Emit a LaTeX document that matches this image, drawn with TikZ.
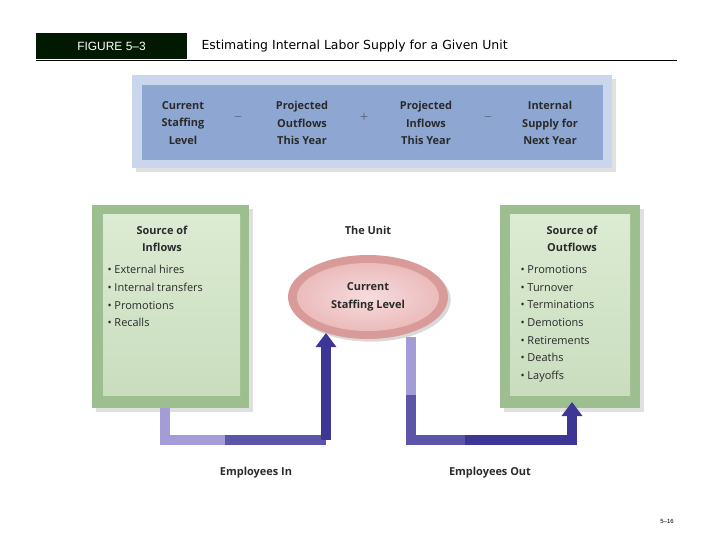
\documentclass[tikz,border=0pt]{standalone}
\usepackage{fontspec}
\setmainfont{Open Sans}
\newfontfamily\hdfont{Liberation Sans}
\newfontfamily\ttlfont{DejaVu Sans}
\usetikzlibrary{shapes.geometric,arrows.meta,shadows}
\definecolor{bluein}{HTML}{8EA6D2}
\definecolor{blueout}{HTML}{C9D6EC}
\definecolor{grnout}{HTML}{9DBE8E}
\definecolor{grnin}{HTML}{DCEBD3}
\definecolor{arr}{HTML}{3E3694}
\definecolor{arrl}{HTML}{A49CD6}
\definecolor{txt}{HTML}{2A2A2A}
\definecolor{pinko}{HTML}{D99A9A}
\definecolor{pinki}{HTML}{F0C4C4}
\tikzset{
 lbl/.style={font=\bfseries\fontsize{11}{17.5}\selectfont, text=txt, align=center},
 itm/.style={font=\fontsize{11}{17.7}\selectfont, text=txt, align=left, anchor=north west},
 flow/.style={line width=10bp, line join=miter},
}
\begin{document}
\begin{tikzpicture}[x=1bp,y=-1bp]
\useasboundingbox (0,0) rectangle (720,540);
% header
\node[fill=black!90!green, text=white, minimum width=151bp, minimum height=26bp, font=\hdfont\fontsize{12}{14}\selectfont] (fig) at (111.5,46) {FIGURE 5–3};
\node[anchor=west, font=\ttlfont\fontsize{12.5}{15}\selectfont] (title) at (198,46) {Estimating Internal Labor Supply for a Given Unit};
\draw[line width=0.8bp] (36,60) -- (677,60);
% top equation box
\fill[gray!40, opacity=.6] (136,79) rectangle (616,172);
\fill[blueout] (132,75) rectangle (612,168);
\fill[bluein] (142,85) rectangle (603,160);
\node[lbl] (e1) at (183,123) {Current\\Staffing\\Level};
\node[lbl] (s1) at (238,117) {$-$};
\node[lbl] (e2) at (302,123) {Projected\\Outflows\\This Year};
\node[lbl] (s2) at (364,117) {$+$};
\node[lbl] (e3) at (426,123) {Projected\\Inflows\\This Year};
\node[lbl] (s3) at (488,117) {$-$};
\node[lbl] (e4) at (550,123) {Internal\\Supply for\\Next Year};
% left green box
\fill[gray!40, opacity=.6] (96,209) rectangle (253,412);
\node[fill=grnout, minimum width=157bp, minimum height=203bp, inner sep=0pt] (lbox) at (170.5,306.5) {};
\shade[top color=grnin, bottom color=grnin!70!grnout] (103,215) rectangle (240,395);
\node[lbl] (lt) at (162,239) {Source of\\Inflows};
\node[itm] (li) at (104,262) {\textbullet\ External hires\\\textbullet\ Internal transfers\\\textbullet\ Promotions\\\textbullet\ Recalls};
% right green box
\fill[gray!40, opacity=.6] (504,209) rectangle (644,412);
\node[fill=grnout, minimum width=140bp, minimum height=203bp, inner sep=0pt] (rbox) at (570,306.5) {};
\shade[top color=grnin, bottom color=grnin!70!grnout] (510,215) rectangle (630,395);
\node[lbl] (rt) at (572,239) {Source of\\Outflows};
\node[itm] (ri) at (517,262) {\textbullet\ Promotions\\\textbullet\ Turnover\\\textbullet\ Terminations\\\textbullet\ Demotions\\\textbullet\ Retirements\\\textbullet\ Deaths\\\textbullet\ Layoffs};
% unit
\node[lbl] (unit) at (368,230) {The Unit};
\node[ellipse, minimum width=160bp, minimum height=84bp, inner sep=0pt, fill=pinko, drop shadow={opacity=.3}] (ell) at (368,297) {};
\node[ellipse, minimum width=142bp, minimum height=68bp, inner sep=0pt, inner color=pinki!60!white, outer color=pinki!80!pinko] (ein) at (368,297) {};
\node[lbl] (cur) at (368,297) {Current\\Staffing Level};
% arrows
\coordinate (a0) at (165,408);
\coordinate (a1) at (165,440);
\coordinate (a2) at (326,440);
\coordinate (a3) at (326,333);
\draw[flow, arrl] (a0) -- (a1) -- ++(60,0);
\draw[flow, arr!70!arrl] (225,440) -- (a2);
\draw[flow, arr, -{Triangle[length=14bp,width=20bp]}] (a2) -- (a3);
\coordinate (b0) at (411,337);
\coordinate (b1) at (411,440);
\coordinate (b2) at (572,440);
\coordinate (b3) at (572,402);
\draw[flow, arrl] (b0) -- (411,400);
\draw[flow, arr!70!arrl] (411,395) -- (b1) -- (470,440);
\draw[flow, arr, -{Triangle[length=14bp,width=20bp]}] (465,440) -- (b2) -- (b3);
\node[lbl] (ein2) at (256,473) {Employees In};
\node[lbl] (eout) at (490,473) {Employees Out};
\node[font=\hdfont\fontsize{6}{7}\selectfont] (pg) at (667,521) {5–16};
\end{tikzpicture}
\end{document}
